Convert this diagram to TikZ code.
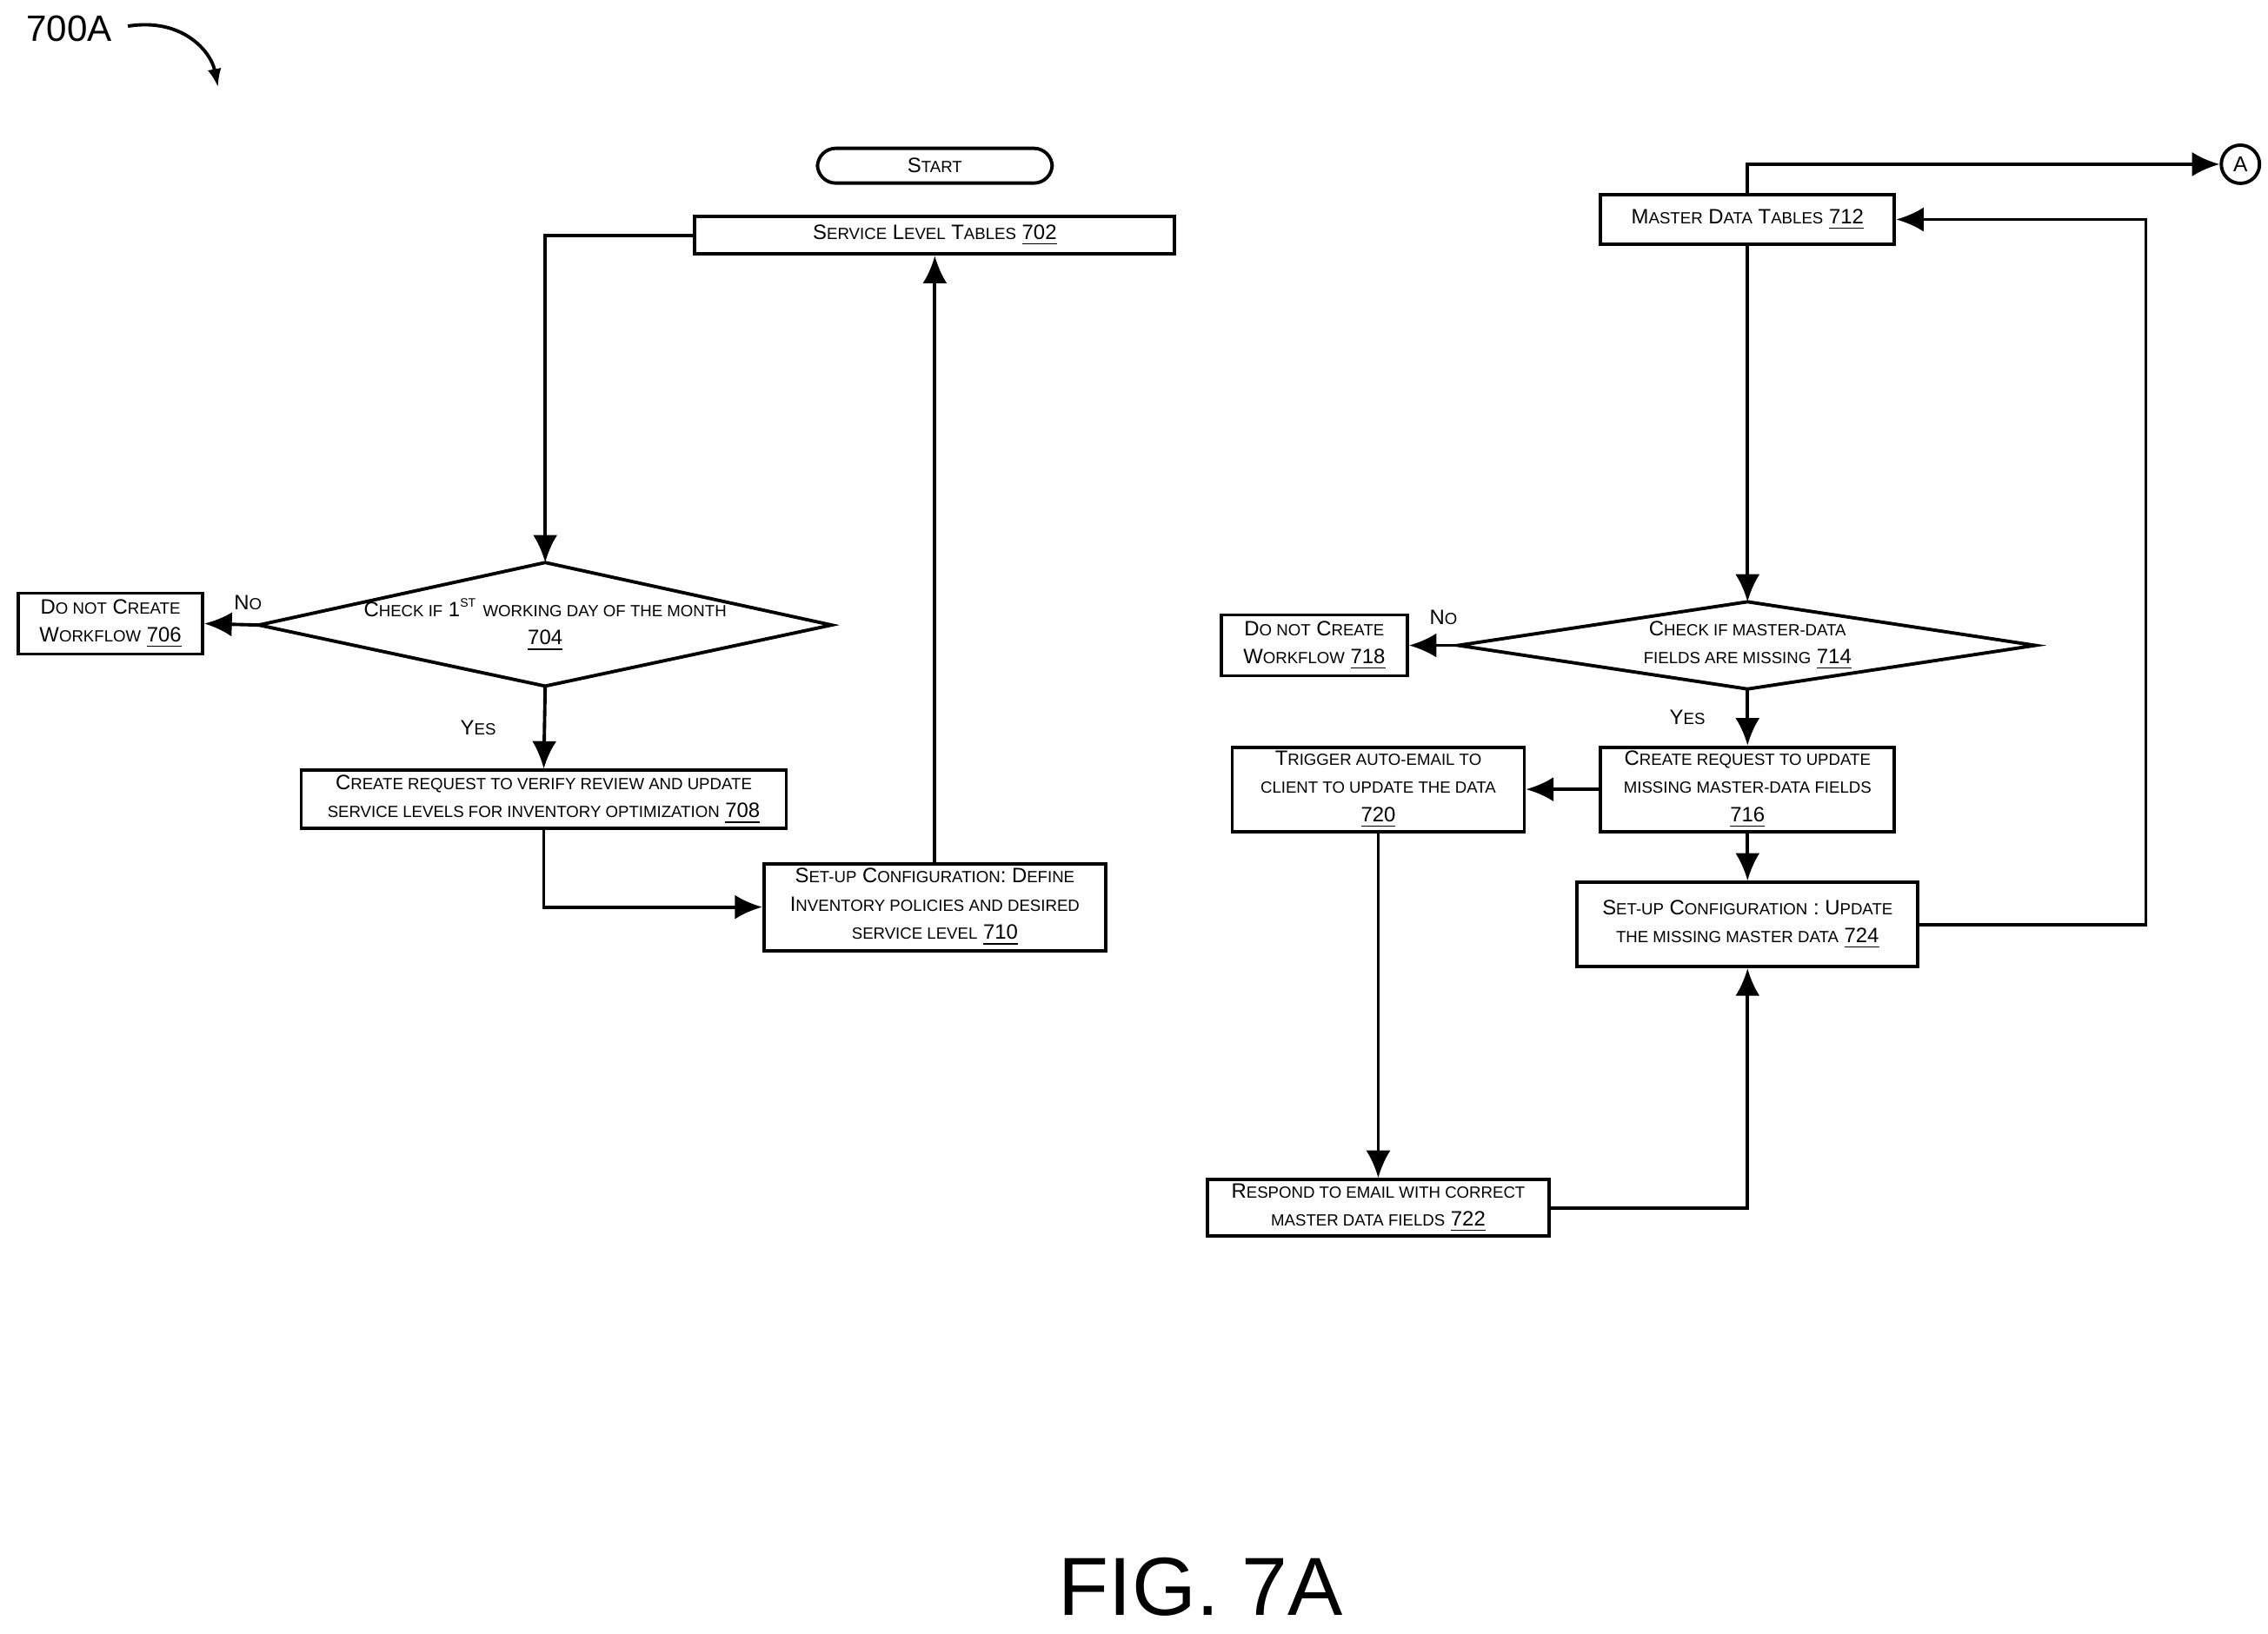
\documentclass[tikz,border=0pt]{standalone}
\usepackage{fontspec}
\setmainfont{Liberation Sans}
\usetikzlibrary{shapes.geometric,arrows.meta}
\newcommand\SC[1]{{\fontsize{5.3}{6}\selectfont\MakeUppercase{#1}}}
\newcommand\ul[1]{\underline{#1}}
\begin{document}
\begin{tikzpicture}[x=0.01672cm,y=-0.01672cm,
  line width=1.1pt,
  box/.style={draw,rectangle,inner sep=0pt,align=center,font=\fontsize{6.8}{9.2}\selectfont},
  dtxt/.style={inner sep=0pt,align=center,font=\fontsize{6.8}{9.2}\selectfont},
  arr/.style={-{Latex[length=9pt,width=8pt]}},
  lbl/.style={font=\fontsize{6.8}{9}\selectfont}]
\useasboundingbox (0,0) rectangle (1560,1124);
\node[anchor=west,font=\fontsize{12}{14}\selectfont] (t700) at (10,20) {700A};
\coordinate (c1) at (88,18);
\coordinate (c2) at (150,60);
\draw[-{Latex[length=6pt]}] (c1) .. controls (125,12) and (145,35) .. (c2);
% left flow
\node[box,rounded corners=6pt,minimum width=2.7cm,minimum height=0.4cm] (start) at (643,114) {S\SC{tart}};
\node[box,minimum width=5.52cm,minimum height=0.43cm] (n702) at (643,162) {S\SC{ervice} L\SC{evel} T\SC{ables} \ul{702}};
\node[dtxt] (n704) at (375,430) {C\SC{heck if} 1\textsuperscript{\fontsize{4}{4}\selectfont ST} \SC{working day of the month}\\ \ul{704}};
\coordinate (d4w) at (178,430); \coordinate (d4e) at (572,430);
\coordinate (d4n) at (375,387); \coordinate (d4s) at (375,472);
\draw (d4w) -- (d4n) -- (d4e) -- (d4s) -- cycle;
\node[box,minimum width=2.12cm,minimum height=0.7cm] (n706) at (76,429) {D\SC{o not} C\SC{reate}\\W\SC{orkflow} \ul{706}};
\node[box,minimum width=5.58cm,minimum height=0.67cm] (n708) at (374,550) {C\SC{reate request to verify review and update}\\\SC{service levels for inventory optimization} \ul{708}};
\node[box,minimum width=3.93cm,minimum height=1.0cm] (n710) at (643,624) {S\SC{et-up} C\SC{onfiguration}: D\SC{efine}\\I\SC{nventory policies and desired}\\\SC{service level} \ul{710}};
\draw[arr] (n702.west) -| (d4n);
\draw[arr] (d4w) -- (n706.east) node[lbl,pos=0.2,above=1pt] {N\SC{o}};
\draw[arr] (d4s) -- (n708.north) node[lbl,midway,left=12pt] {Y\SC{es}};
\draw[arr] (n708.south) |- (n710.west);
\draw[arr] (n710.north) -- (n702.south);
% right flow
\node[box,minimum width=3.38cm,minimum height=0.57cm] (n712) at (1202,151) {M\SC{aster} D\SC{ata} T\SC{ables} \ul{712}};
\node[draw,circle,minimum size=0.44cm,inner sep=0pt,font=\fontsize{7}{8}\selectfont] (A) at (1541,113) {A};
\node[dtxt] (n714) at (1202,444) {C\SC{heck if master-data}\\\SC{fields are missing} \ul{714}};
\coordinate (d14w) at (1003,444); \coordinate (d14e) at (1400,444);
\coordinate (d14n) at (1202,414); \coordinate (d14s) at (1202,474);
\draw (d14w) -- (d14n) -- (d14e) -- (d14s) -- cycle;
\node[box,minimum width=2.14cm,minimum height=0.7cm] (n718) at (904,444) {D\SC{o not} C\SC{reate}\\W\SC{orkflow} \ul{718}};
\node[box,minimum width=3.38cm,minimum height=0.97cm] (n716) at (1202,543) {C\SC{reate request to update}\\\SC{missing master-data fields}\\\ul{716}};
\node[box,minimum width=3.36cm,minimum height=0.97cm] (n720) at (948,543) {T\SC{rigger auto-email to}\\\SC{client to update the data}\\\ul{720}};
\node[box,minimum width=3.92cm,minimum height=0.97cm] (n724) at (1202,636) {S\SC{et-up} C\SC{onfiguration} : U\SC{pdate}\\\SC{the missing master data} \ul{724}};
\node[box,minimum width=3.93cm,minimum height=0.65cm] (n722) at (948,831) {R\SC{espond to email with correct}\\\SC{master data fields} \ul{722}};
\coordinate (rt) at (1476,151);
\draw[arr] (n712.north) |- (A.west);
\draw[arr] (n712.south) -- (d14n);
\draw[arr] (d14w) -- (n718.east) node[lbl,pos=0.3,above=3pt] {N\SC{o}};
\draw[arr] (d14s) -- (n716.north) node[lbl,midway,left=10pt] {Y\SC{es}};
\draw[arr] (n716.west) -- (n720.east);
\draw[arr] (n716.south) -- (n724.north);
\draw[arr] (n720.south) -- (n722.north);
\draw[arr] (n722.east) -| (n724.south);
\draw[arr] (n724.east) -| (rt) -- (n712.east);
\node[font=\fontsize{27}{30}\selectfont] (fig) at (826,1092) {FIG. 7A};
\end{tikzpicture}
\end{document}
